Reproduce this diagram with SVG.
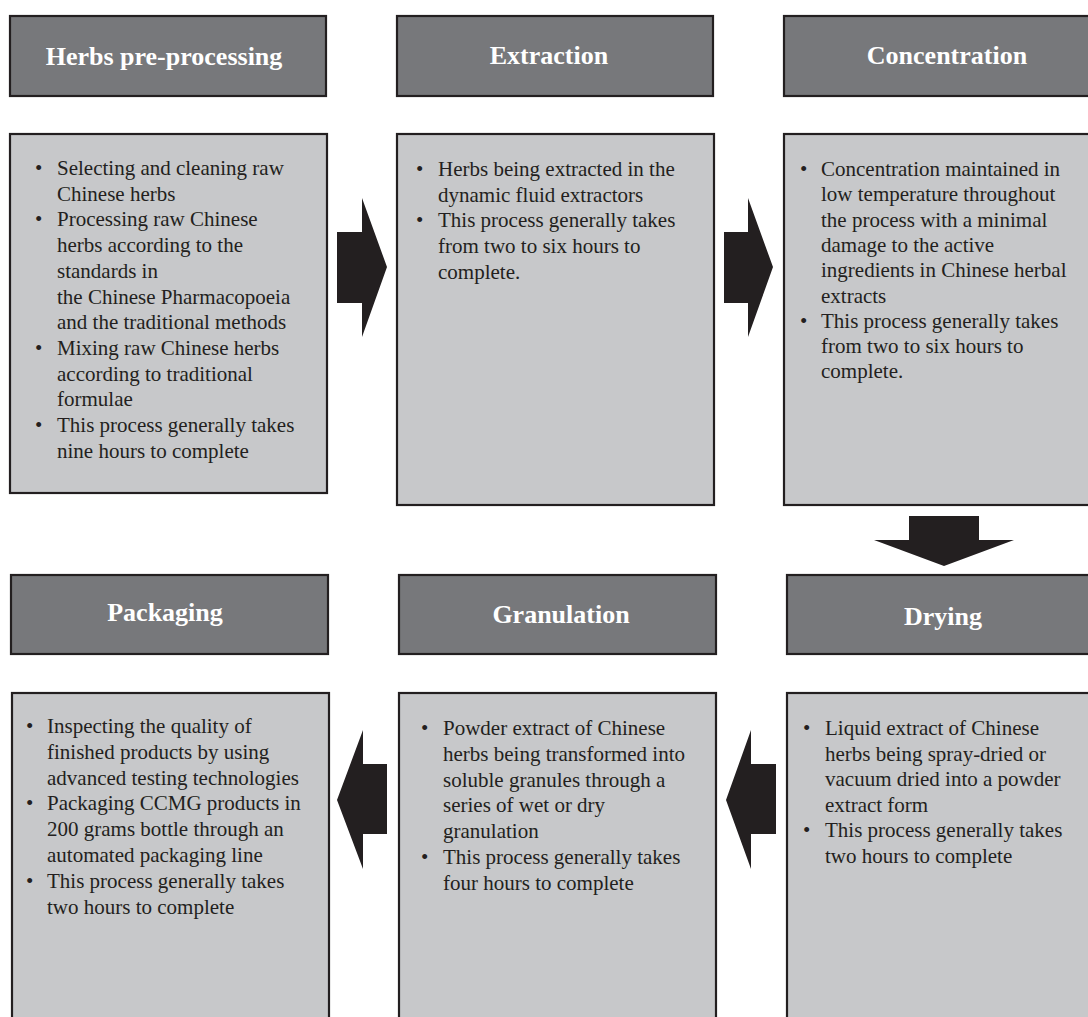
<svg xmlns="http://www.w3.org/2000/svg" width="1088" height="1017" viewBox="0 0 1088 1017">
<style>
.hdr{fill:#77787b;stroke:#231f20;stroke-width:2.2}
.body{fill:#c7c8ca;stroke:#231f20;stroke-width:2.2}
.ht{font-family:"Liberation Serif",serif;font-weight:bold;font-size:26px;fill:#ffffff;text-anchor:middle}
.bt{font-family:"Liberation Serif",serif;font-size:21px;fill:#231f20}
.arr{fill:#231f20}
</style>
<rect width="1088" height="1017" fill="#ffffff"/>
<g id="herbs-preprocessing">
<rect class="hdr" x="10" y="16" width="316" height="80"/>
<text class="ht" x="164" y="65">Herbs pre-processing</text>
<rect class="body" x="10" y="134" width="317" height="359"/>
<text class="bt"><tspan x="35" y="175">•</tspan><tspan x="57" y="175">Selecting and cleaning raw</tspan><tspan x="57" y="200.7">Chinese herbs</tspan><tspan x="35" y="226.4">•</tspan><tspan x="57" y="226.4">Processing raw Chinese</tspan><tspan x="57" y="252.1">herbs according to the</tspan><tspan x="57" y="277.8">standards in</tspan><tspan x="57" y="303.5">the Chinese Pharmacopoeia</tspan><tspan x="57" y="329.2">and the traditional methods</tspan><tspan x="35" y="354.9">•</tspan><tspan x="57" y="354.9">Mixing raw Chinese herbs</tspan><tspan x="57" y="380.6">according to traditional</tspan><tspan x="57" y="406.3">formulae</tspan><tspan x="35" y="432">•</tspan><tspan x="57" y="432">This process generally takes</tspan><tspan x="57" y="457.7">nine hours to complete</tspan></text>
</g>
<g id="extraction">
<rect class="hdr" x="397" y="16" width="316" height="80"/>
<text class="ht" x="549" y="64">Extraction</text>
<rect class="body" x="397" y="134" width="317" height="371"/>
<text class="bt"><tspan x="416" y="176">•</tspan><tspan x="438" y="176">Herbs being extracted in the</tspan><tspan x="438" y="201.7">dynamic fluid extractors</tspan><tspan x="416" y="227.4">•</tspan><tspan x="438" y="227.4">This process generally takes</tspan><tspan x="438" y="253.1">from two to six hours to</tspan><tspan x="438" y="278.8">complete.</tspan></text>
</g>
<g id="concentration">
<rect class="hdr" x="784" y="16" width="320" height="80"/>
<text class="ht" x="947" y="64">Concentration</text>
<rect class="body" x="784" y="134" width="320" height="371"/>
<text class="bt"><tspan x="800" y="176">•</tspan><tspan x="821" y="176">Concentration maintained in</tspan><tspan x="821" y="201.3">low temperature throughout</tspan><tspan x="821" y="226.6">the process with a minimal</tspan><tspan x="821" y="251.9">damage to the active</tspan><tspan x="821" y="277.2">ingredients in Chinese herbal</tspan><tspan x="821" y="302.5">extracts</tspan><tspan x="800" y="327.8">•</tspan><tspan x="821" y="327.8">This process generally takes</tspan><tspan x="821" y="353.1">from two to six hours to</tspan><tspan x="821" y="378.4">complete.</tspan></text>
</g>
<g id="packaging">
<rect class="hdr" x="11" y="575" width="317" height="79"/>
<text class="ht" x="165" y="621">Packaging</text>
<rect class="body" x="12" y="693" width="317" height="340"/>
<text class="bt"><tspan x="26" y="733">•</tspan><tspan x="47" y="733">Inspecting the quality of</tspan><tspan x="47" y="758.8">finished products by using</tspan><tspan x="47" y="784.6">advanced testing technologies</tspan><tspan x="26" y="810.4">•</tspan><tspan x="47" y="810.4">Packaging CCMG products in</tspan><tspan x="47" y="836.2">200 grams bottle through an</tspan><tspan x="47" y="862">automated packaging line</tspan><tspan x="26" y="887.8">•</tspan><tspan x="47" y="887.8">This process generally takes</tspan><tspan x="47" y="913.6">two hours to complete</tspan></text>
</g>
<g id="granulation">
<rect class="hdr" x="399" y="575" width="317" height="79"/>
<text class="ht" x="561" y="623">Granulation</text>
<rect class="body" x="399" y="693" width="317" height="340"/>
<text class="bt"><tspan x="421" y="735">•</tspan><tspan x="443" y="735">Powder extract of Chinese</tspan><tspan x="443" y="760.8">herbs being transformed into</tspan><tspan x="443" y="786.6">soluble granules through a</tspan><tspan x="443" y="812.4">series of wet or dry</tspan><tspan x="443" y="838.2">granulation</tspan><tspan x="421" y="864">•</tspan><tspan x="443" y="864">This process generally takes</tspan><tspan x="443" y="889.8">four hours to complete</tspan></text>
</g>
<g id="drying">
<rect class="hdr" x="787" y="575" width="320" height="79"/>
<text class="ht" x="943" y="625">Drying</text>
<rect class="body" x="787" y="693" width="320" height="340"/>
<text class="bt"><tspan x="803" y="735">•</tspan><tspan x="825" y="735">Liquid extract of Chinese</tspan><tspan x="825" y="760.6">herbs being spray-dried or</tspan><tspan x="825" y="786.2">vacuum dried into a powder</tspan><tspan x="825" y="811.8">extract form</tspan><tspan x="803" y="837.4">•</tspan><tspan x="825" y="837.4">This process generally takes</tspan><tspan x="825" y="863">two hours to complete</tspan></text>
</g>
<g id="connectors">
<polygon class="arr" points="337,232 362,232 362,198 387,267 362,337 362,303 337,303"/>
<polygon class="arr" points="724,232 748,232 748,198 773,267 748,337 748,303 724,303"/>
<polygon class="arr" points="909,516 979,516 979,540 1014,540 944,566 874,540 909,540"/>
<polygon class="arr" points="776,764 751,764 751,730 726,800 751,869 751,834 776,834"/>
<polygon class="arr" points="387,764 363,764 363,730 337,800 363,869 363,834 387,834"/>
</g>
</svg>
